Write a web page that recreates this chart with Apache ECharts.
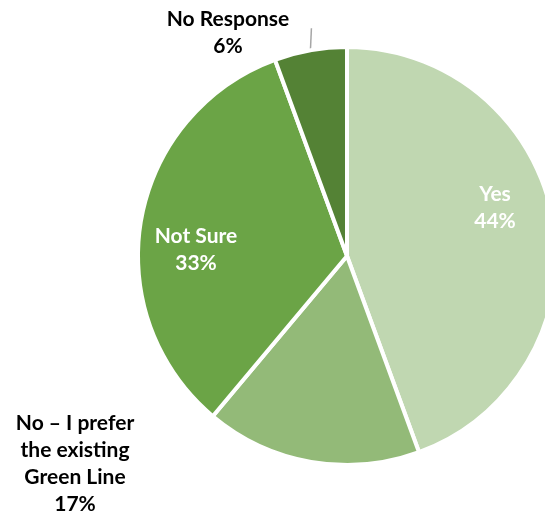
<!DOCTYPE html>
<html lang="en">
<head>
    <meta charset="UTF-8">
    <title>Pie</title>
    <script type="text/javascript" src="https://cdn.jsdelivr.net/npm/echarts@6/dist/echarts.min.js"></script>
    <style>html,body{margin:0;padding:0;background:#fff;}</style>
</head>
<body>
<div id="main" style="width: 545px; height: 520px"></div>

<script type="text/javascript">
    var myChart = echarts.init(document.getElementById('main'));

    // data (shares in percent)
    var answers = ['Yes', 'No \u2013 I prefer\nthe existing\nGreen Line', 'Not Sure', 'No Response'];
    var shares = [44.4, 16.7, 33.3, 5.6];
    var colors = ['#c0d7b1', '#93ba78', '#6ba446', '#548235'];
    var insideLabel = [true, false, true, false];

    // where each label sits (label centre)
    var labelSpots = [[495, 208], [75, 464], [196, 250], [228, 33]];

    var pieData = [];
    for (var i = 0; i < answers.length; i++) {
        pieData.push({
            name: answers[i],
            value: shares[i],
            itemStyle: { color: colors[i] },
            label: {
                position: insideLabel[i] ? 'inside' : 'outside',
                color: insideLabel[i] ? '#ffffff' : '#000000'
            },
            labelLine: { show: i === 3, lineStyle: { color: '#a6a6a6', width: 1.5 } }
        });
    }

    var option = {
        animation: false,
        series: [{
            type: 'pie',
            center: [347, 256],
            radius: 209,
            startAngle: 90,
            clockwise: true,
            percentPrecision: 0,
            avoidLabelOverlap: false,
            itemStyle: { borderColor: '#ffffff', borderWidth: 4 },
            label: {
                show: true,
                formatter: '{b}\n{d}%',
                fontFamily: 'Lato',
                fontWeight: 'bold',
                fontSize: 21,
                lineHeight: 27,
                align: 'center'
            },
            labelLine: { length: 10, length2: 0 },
            labelLayout: function (p) {
                var s = labelSpots[p.dataIndex];
                var out = { x: s[0], y: s[1], align: 'center', verticalAlign: 'middle' };
                if (p.labelLinePoints && p.dataIndex === 3) {
                    var a = p.labelLinePoints[0];
                    out.labelLinePoints = [[a[0], a[1]], [a[0] + 1, a[1] - 22]];
                }
                return out;
            },
            data: pieData
        }]
    };

    myChart.setOption(option);
</script>
</body>
</html>
